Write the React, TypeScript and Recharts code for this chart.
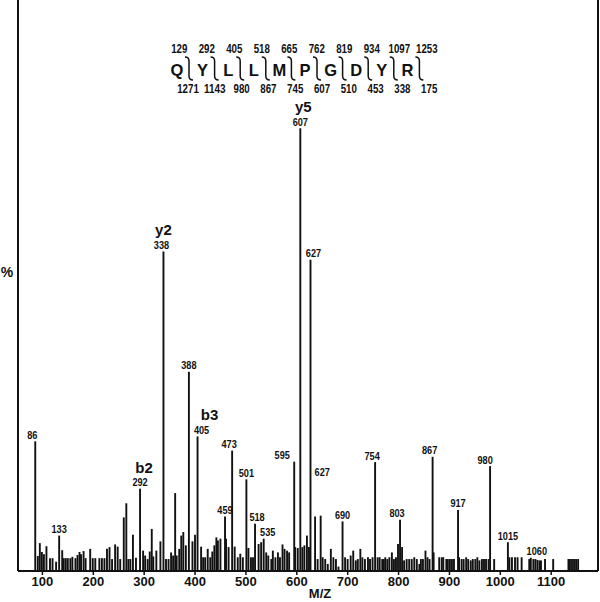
import { BarChart, Bar, XAxis, YAxis, LabelList, ReferenceLine, ReferenceDot } from 'recharts';

// labelled peaks (m/z, relative intensity %)
const PEAK_MZ = [86, 133, 292, 338, 388, 405, 459, 473, 501, 518, 535, 595, 607, 627, 690, 754, 803, 867, 917, 980, 1015, 1060];
const PEAK_INT = [29.3, 8.0, 18.6, 72.2, 45.0, 30.4, 12.3, 27.2, 20.7, 10.7, 7.3, 24.7, 100, 70.3, 11.2, 24.6, 11.6, 25.8, 13.8, 23.7, 6.5, 3.0];

// fragment ion names shown above some peaks
const ION_NAMES: Record<string, string> = { '292': 'b2', '338': 'y2', '405': 'b3', '607': 'y5' };

// unlabelled background peaks
const NOISE_MZ = [
  91, 95, 99, 103, 108, 115, 120, 127, 139, 142, 146, 150, 155, 159, 165, 169, 173, 176, 181, 185,
  194, 199, 204, 212, 217, 222, 227, 232, 237, 243, 248, 253, 260, 265, 269, 273, 278, 284, 298, 302,
  307, 311, 315, 318, 324, 332, 343, 348, 353, 357, 361, 364, 369, 373, 377, 382, 395, 400, 412, 416,
  420, 425, 430, 434, 438, 442, 445, 450, 461, 466, 478, 484, 489, 494, 505, 510, 514, 525, 530, 540,
  544, 550, 553, 558, 563, 567, 572, 576, 581, 585, 597, 602, 611, 615, 620, 624, 636, 641, 647, 651,
  656, 661, 667, 672, 677, 682, 695, 700, 706, 711, 716, 720, 725, 729, 734, 740, 744, 749, 759, 763,
  768, 771, 774, 778, 782, 787, 791, 795, 799, 807, 811, 816, 821, 826, 831, 836, 841, 844, 848, 853,
  857, 861, 869, 880, 885, 888, 894, 897, 901, 905, 909, 919, 924, 928, 933, 937, 942, 946, 951, 955,
  959, 964, 968, 972, 977, 988, 1018, 1023, 1029, 1034, 1042, 1057, 1065, 1069, 1073, 1077, 1080, 1088, 1104, 1134,
  1137, 1141, 1145, 1149, 1153,
];
const NOISE_INT = [
  3.4, 6.3, 4.3, 3.8, 5.6, 2.9, 2.9, 2.1, 4.7, 2.9, 2.9, 2.9, 2.9, 3.2, 2.9, 3.6, 4.3, 3.8, 4.5, 2.9,
  5.0, 2.9, 2.9, 2.9, 2.9, 2.9, 5.0, 5.4, 2.7, 6.0, 5.5, 2.7, 12.1, 15.3, 2.7, 2.7, 8.2, 3.0, 4.6, 3.5,
  2.7, 4.4, 9.5, 3.3, 4.6, 6.7, 2.7, 2.7, 4.2, 3.5, 17.6, 3.5, 5.0, 8.0, 8.8, 5.8, 6.7, 8.2, 5.5, 3.1,
  3.1, 5.0, 3.1, 4.4, 5.8, 7.6, 6.9, 7.3, 7.3, 5.4, 5.5, 3.1, 3.9, 3.1, 5.2, 3.1, 3.1, 6.1, 6.5, 4.2,
  3.5, 2.7, 4.6, 3.1, 4.2, 3.1, 6.0, 5.0, 4.6, 4.2, 5.4, 5.2, 5.4, 5.8, 8.0, 5.4, 12.3, 2.7, 12.5, 3.1,
  2.7, 1.6, 5.0, 3.1, 2.7, 1.0, 3.1, 2.7, 3.5, 4.6, 2.4, 2.7, 5.0, 3.1, 2.7, 3.1, 2.7, 3.1, 3.1, 3.1,
  2.7, 2.7, 3.1, 2.7, 3.1, 4.2, 2.7, 3.1, 6.1, 5.4, 2.4, 2.7, 2.7, 2.7, 3.1, 2.7, 1.6, 2.7, 2.7, 4.6,
  3.1, 2.7, 4.2, 3.1, 3.1, 3.1, 2.7, 2.7, 2.7, 2.7, 2.7, 3.1, 2.7, 2.7, 3.1, 2.7, 2.4, 2.7, 2.7, 3.1,
  2.4, 2.7, 2.7, 2.7, 2.7, 2.7, 3.1, 3.1, 3.1, 3.1, 3.1, 2.7, 2.7, 2.7, 2.5, 2.4, 2.4, 2.7, 2.7, 2.7,
  2.7, 2.7, 2.7, 2.7, 2.7,
];

const X_TICKS = [100, 200, 300, 400, 500, 600, 700, 800, 900, 1000, 1100];

// peptide sequence with b ions (top) and y ions (bottom)
const SEQUENCE = ['Q', 'Y', 'L', 'L', 'M', 'P', 'G', 'D', 'Y', 'R'];
const B_IONS = ['129', '292', '405', '518', '665', '762', '819', '934', '1097', '1253'];
const Y_IONS = ['1271', '1143', '980', '867', '745', '607', '510', '453', '338', '175'];

const data = [
  ...PEAK_MZ.map((mz, i) => ({ mz, int: PEAK_INT[i], label: String(mz) })),
  ...NOISE_MZ.map((mz, i) => ({ mz, int: NOISE_INT[i], label: undefined as string | undefined })),
].sort((a, b) => a.mz - b.mz);

const SANS = '"Liberation Sans", Arial, sans-serif';
const INK = '#111';

// small horizontal nudges so labels sit like the original
const LABEL_DX: Record<string, number> = { '86': -3, '405': 4, '473': -3, '518': 2, '535': 4, '595': -12, '627': 3, '338': -2, '754': -3, '803': -3, '867': -3, '980': -5, '1060': 6 };
const ION_DX: Record<string, number> = { '292': 4, '405': 12, '607': 3 };

// condensed bold digits, like the original figure's lettering
const NumText = ({ x, y, size, perChar, children }: any) => (
  <text
    x={x}
    y={y}
    textAnchor="middle"
    fontSize={size}
    fontWeight="bold"
    fontFamily={SANS}
    fill={INK}
    textLength={String(children).length * perChar}
    lengthAdjust="spacingAndGlyphs"
  >
    {children}
  </text>
);

const Stick = (p: any) => {
  const { x, y, width, height } = p;
  if (height == null || height <= 0) return null;
  const cx = x + width / 2;
  return <line x1={cx} x2={cx} y1={y} y2={y + height} stroke={INK} strokeWidth={1.9} />;
};

const PeakLabel = (p: any) => {
  const vb = p.viewBox ?? p;
  const text = p.value;
  if (text == null || text === '') return null;
  const cx = vb.x + (vb.width ?? 0) / 2;
  const top = vb.y;
  const ion = ION_NAMES[text];
  return (
    <g>
      <NumText x={cx + (LABEL_DX[text] ?? 0)} y={top - 2.5} size={10} perChar={5.1}>
        {text}
      </NumText>
      {ion && (
        <text x={cx + (ION_DX[text] ?? 0)} y={top - 16} textAnchor="middle" fontSize={15} fontWeight="bold" fontFamily={SANS} fill={INK}>
          {ion}
        </text>
      )}
    </g>
  );
};

const Header = () => {
  const letterX = (i: number) => 177 + i * 25.6;
  return (
    <svg width={600} height={602} style={{ position: 'absolute', left: 0, top: 0, pointerEvents: 'none' }}>
      {B_IONS.map((t, i) => (
        <NumText key={'b' + i} x={179.3 + i * 27.5} y={52.5} size={12} perChar={5.4}>
          {t}
        </NumText>
      ))}
      {SEQUENCE.map((s, i) => (
        <text key={'s' + i} x={letterX(i)} y={76} textAnchor="middle" fontSize={16.5} fontWeight="bold" fontFamily={SANS} fill={INK}>
          {s}
        </text>
      ))}
      {SEQUENCE.map((_, i) => {
        const bx = letterX(i) + 12;
        return (
          <path
            key={'k' + i}
            d={`M${bx - 4},57 Q${bx},57 ${bx},61 L${bx},76 Q${bx},80 ${bx + 4},80`}
            fill="none"
            stroke={INK}
            strokeWidth={1.5}
          />
        );
      })}
      {Y_IONS.map((t, i) => (
        <NumText key={'y' + i} x={188 + i * 26.8} y={92.5} size={12} perChar={5.4}>
          {t}
        </NumText>
      ))}
      <text x={7} y={277} textAnchor="middle" fontSize={14} fontWeight="bold" fontFamily={SANS} fill={INK}>%</text>
      <text x={320} y={598} textAnchor="middle" fontSize={13} fontWeight="bold" fontFamily={SANS} fill={INK}>M/Z</text>
    </svg>
  );
};

export default function App() {
  return (
    <div style={{ position: 'absolute', left: 0, top: 0, width: 600, height: 602, background: '#fff' }}>
      <BarChart width={600} height={602} data={data} margin={{ top: 0, right: 2, left: 0, bottom: 0 }} barCategoryGap={0}>
        <XAxis
          dataKey="mz"
          type="number"
          domain={[52, 1192]}
          ticks={X_TICKS}
          allowDataOverflow
          height={31}
          tickSize={4}
          tickMargin={2}
          axisLine={{ stroke: INK, strokeWidth: 2 }}
          tickLine={{ stroke: INK, strokeWidth: 1.5 }}
          tick={{ fontSize: 13, fontWeight: 'bold', fill: INK, fontFamily: SANS }}
        />
        <YAxis
          type="number"
          domain={[0, 129]}
          allowDataOverflow
          width={18}
          tick={false}
          tickLine={false}
          axisLine={{ stroke: INK, strokeWidth: 2 }}
        />
        <ReferenceLine x={1192} stroke={INK} strokeWidth={2} />
        <Bar dataKey="int" barSize={2} shape={<Stick />} isAnimationActive={false}>
          <LabelList dataKey="label" content={<PeakLabel />} />
        </Bar>
        <ReferenceDot x={644} y={21} r={0} fill="none" stroke="none" label={<PeakLabel value="627" />} />
      </BarChart>
      <Header />
    </div>
  );
}
